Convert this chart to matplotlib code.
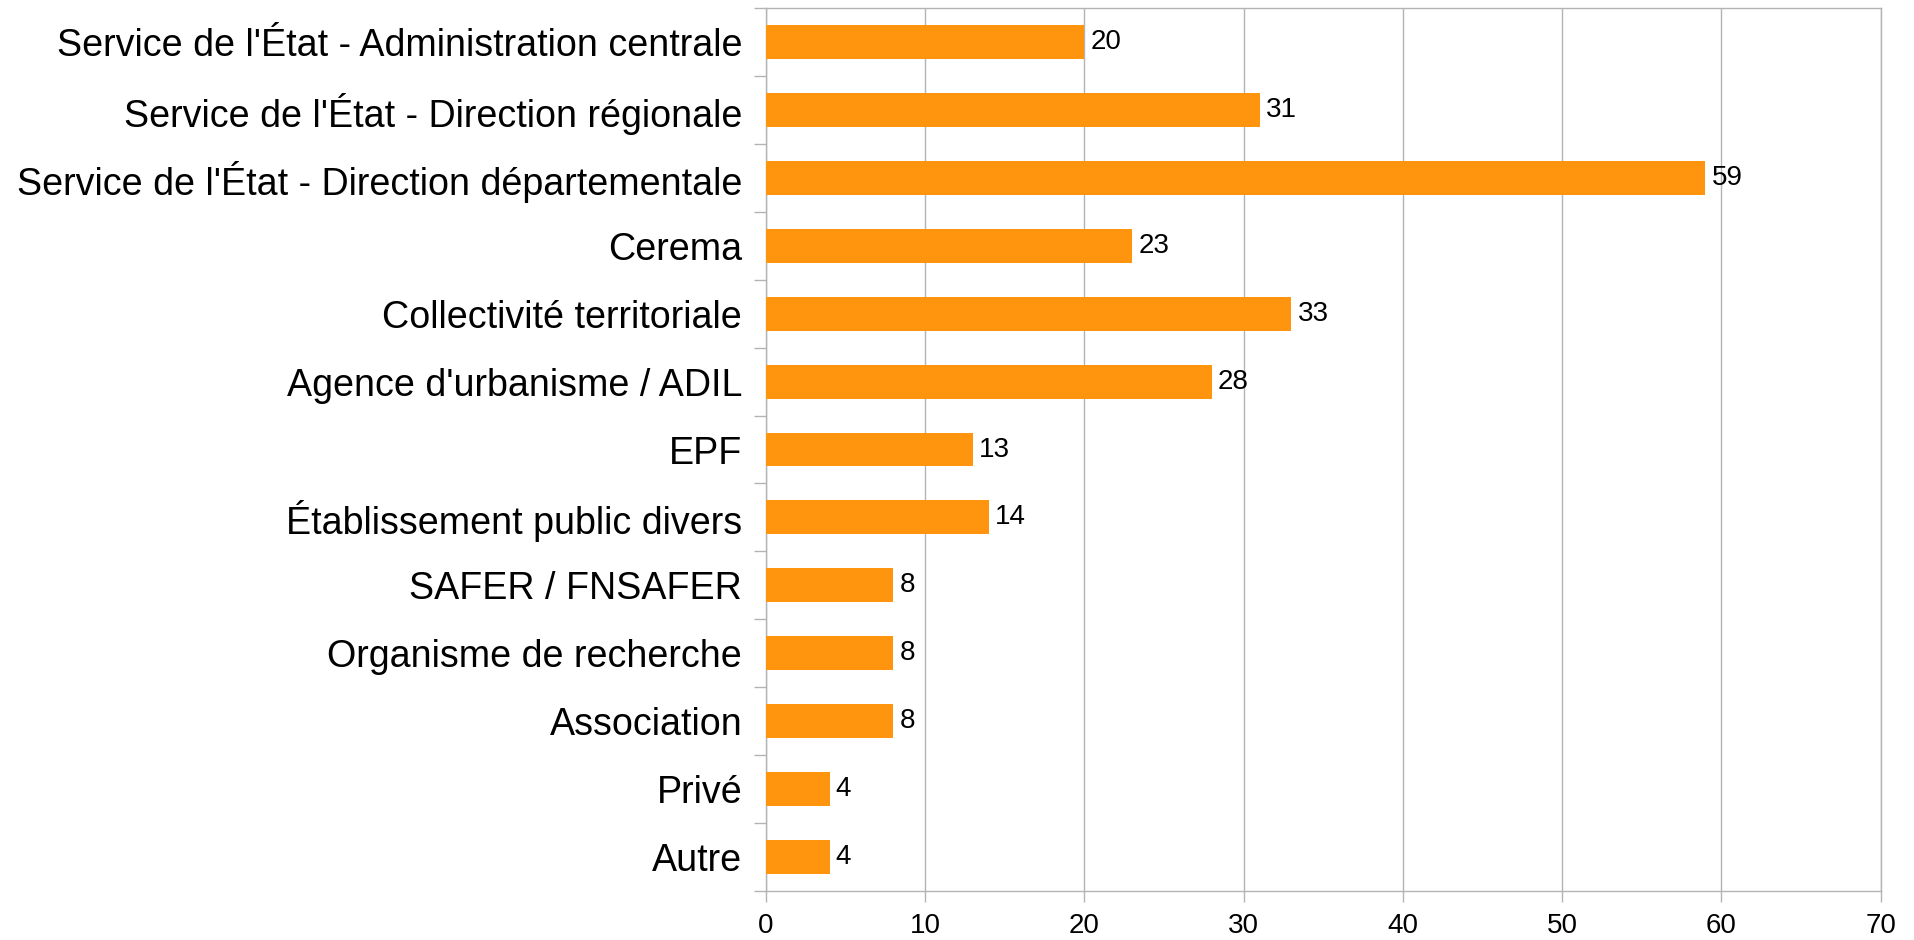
import matplotlib
matplotlib.use("Agg")
import matplotlib.pyplot as plt
import numpy as np

categories = [
    "Service de l'État - Administration centrale",
    "Service de l'État - Direction régionale",
    "Service de l'État - Direction départementale",
    "Cerema",
    "Collectivité territoriale",
    "Agence d'urbanisme / ADIL",
    "EPF",
    "Établissement public divers",
    "SAFER / FNSAFER",
    "Organisme de recherche",
    "Association",
    "Privé",
    "Autre",
]
values = [20, 31, 59, 23, 33, 28, 13, 14, 8, 8, 8, 4, 4]
x_ticks = [0, 10, 20, 30, 40, 50, 60, 70]

plt.rcParams['font.family'] = ['Liberation Sans', 'DejaVu Sans']
grid_color = '#b3b3b3'
bar_color = '#ff950e'

fig = plt.figure(figsize=(19.14, 9.40), dpi=100)
ax = fig.add_axes([0.4001, 0.0521, 0.9826 - 0.4001, 0.9915 - 0.0521])

n = len(categories)
y = np.arange(n)
ax.barh(y, values, height=0.5, color=bar_color, zorder=3)
for yi, v in zip(y, values):
    ax.text(v + 0.4, yi, str(v), va='center', ha='left', fontsize=20, color='black', zorder=4)

ax.set_ylim(n - 0.5, -0.5)
ax.set_xlim(0, 70)
ax.set_xticks(x_ticks)
ax.set_xticklabels([str(t) for t in x_ticks], fontsize=20)
ax.set_yticks(y)
ax.set_yticklabels(categories, fontsize=27.05)
ax.set_yticks(np.arange(-0.5, n, 1.0), minor=True)

ax.tick_params(axis='y', which='major', length=0, pad=17)
ax.tick_params(axis='y', which='minor', length=8.6, width=1.0, color=grid_color, direction='out')
ax.tick_params(axis='x', which='major', length=8, width=1.0, color=grid_color, direction='out', pad=8)

ax.xaxis.grid(True, color=grid_color, linewidth=1.0, zorder=0)
ax.set_axisbelow(True)
for s in ax.spines.values():
    s.set_color(grid_color)
    s.set_linewidth(1.0)

fig.savefig("out.png", dpi=100, facecolor='white')
